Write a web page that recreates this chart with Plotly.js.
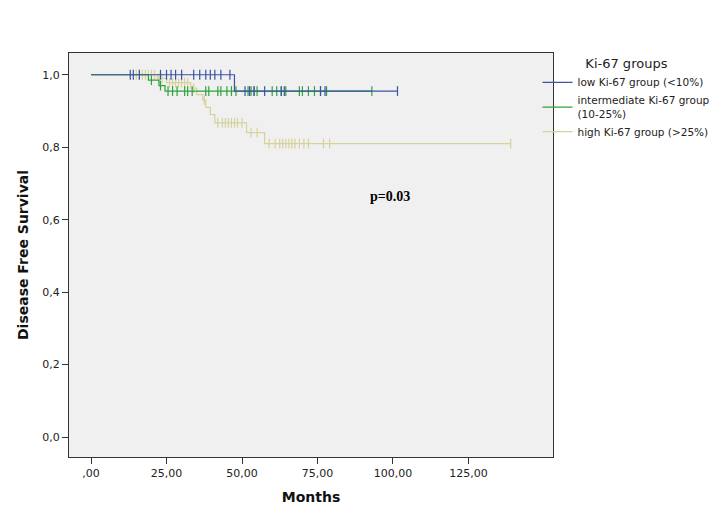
<!DOCTYPE html>
<html>
<head>
<meta charset="utf-8">
<script src="https://cdn.plot.ly/plotly-3.0.1.min.js"></script>
<style>
  body { margin: 0; background: #fff; }
  #plot { width: 728px; height: 532px; }
</style>
</head>
<body>
<div id="plot"></div>
<script>
// step curves: time points and survival after each step (last point = end of follow-up)
var lowT  = [0, 47.5, 101.5];
var lowS  = [1.0, 0.955, 0.955];
var midT  = [0, 19, 22.5, 24.5, 93];
var midS  = [1.0, 0.985, 0.97, 0.955, 0.955];
var highT = [0, 22, 25, 33, 35, 37, 38, 39.5, 41, 51.5, 57.5, 139];
var highS = [1.0, 0.99, 0.978, 0.963, 0.945, 0.93, 0.91, 0.89, 0.867, 0.84, 0.81, 0.81];

// censored observations (months)
var lowCens  = [13, 14, 16, 23, 25, 26.5, 28, 30, 34, 36, 38, 39.5, 41, 43, 46,
                51, 52.5, 54, 57.5, 63, 64, 76, 77.5, 101.5];
var midCens  = [20, 23, 25.5, 27, 28.5, 31, 32, 33.5, 38, 39, 42, 43, 45, 46.5, 48,
                52, 53, 54, 55, 60, 61.5, 63, 64.5, 69, 70, 72, 74, 76, 78, 93];
var highCens = [15, 16, 17, 18, 19, 20, 21, 22.5, 23.5, 26, 27, 28, 29, 30, 31, 32,
                34, 37.5, 42, 43.5, 44.5, 45.5, 46.5, 47.5, 48.5, 50, 53, 55,
                59, 61, 62.5, 63.5, 64.5, 65.5, 66.5, 67.5, 69, 70.5, 72, 77, 79, 139];

var groupNames = ['low Ki-67 group (<10%)', 'intermediate Ki-67 group<br>(10-25%)', 'high Ki-67 group (>25%)'];
var colors = ['#3d52a1', '#2ea33a', '#d6d29b'];

var xTicks = [0, 25, 50, 75, 100, 125];
var xTickText = [',00', '25,00', '50,00', '75,00', '100,00', '125,00'];
var yTicks = [0, 0.2, 0.4, 0.6, 0.8, 1.0];
var yTickText = ['0,0', '0,2', '0,4', '0,6', '0,8', '1,0'];

function survAt(T, S, t) {
  var s = S[0];
  for (var i = 0; i < T.length; i++) { if (T[i] <= t) s = S[i]; }
  return s;
}

var curves = [[lowT, lowS, lowCens], [midT, midS, midCens], [highT, highS, highCens]];
var data = [];
// draw high first so low/mid sit on top, legend order kept with legendrank
[2, 1, 0].forEach(function (g) {
  var T = curves[g][0], S = curves[g][1], C = curves[g][2];
  data.push({
    x: T, y: S, type: 'scatter', mode: 'lines',
    line: {shape: 'hv', color: colors[g], width: 1.2},
    name: groupNames[g], legendrank: g + 1
  });
  data.push({
    x: C, y: C.map(function (t) { return survAt(T, S, t); }),
    type: 'scatter', mode: 'markers', showlegend: false, hoverinfo: 'skip',
    marker: {symbol: 'line-ns-open', size: 7, color: colors[g], line: {color: colors[g], width: 1.2}}
  });
});

var layout = {
  width: 728, height: 532,
  margin: {l: 69, r: 175, t: 53, b: 75},
  paper_bgcolor: '#ffffff',
  plot_bgcolor: '#f0f0f0',
  font: {family: 'DejaVu Sans, sans-serif', size: 11, color: '#222'},
  xaxis: {
    range: [-7.3, 153],
    tickvals: xTicks, ticktext: xTickText,
    ticks: 'outside', ticklen: 6, tickcolor: '#333',
    showgrid: false, zeroline: false,
    showline: true, mirror: true, linecolor: '#333', linewidth: 1,
    title: {text: 'Months', font: {size: 14, weight: 'bold', color: '#111'}, standoff: 12}
  },
  yaxis: {
    range: [-0.055, 1.06],
    tickvals: yTicks, ticktext: yTickText,
    ticks: 'outside', ticklen: 6, tickcolor: '#333',
    showgrid: false, zeroline: false,
    showline: true, mirror: true, linecolor: '#333', linewidth: 1,
    title: {text: 'Disease Free Survival', font: {size: 14, weight: 'bold', color: '#111'}, standoff: 10}
  },
  legend: {
    x: 0.968, xanchor: 'left', y: 1.005, yanchor: 'top',
    bgcolor: 'rgba(0,0,0,0)',
    font: {size: 10.5, color: '#222'},
    tracegroupgap: 0,
    title: {text: 'Ki-67 groups', side: 'top center', font: {size: 13, color: '#222'}}
  },
  annotations: [{
    x: 99, y: 0.663, xref: 'x', yref: 'y', showarrow: false,
    text: '<b>p=0.03</b>',
    font: {family: 'Liberation Serif, Times New Roman, serif', size: 14, color: '#000'}
  }]
};

Plotly.newPlot('plot', data, layout, {displayModeBar: false});
</script>
</body>
</html>
